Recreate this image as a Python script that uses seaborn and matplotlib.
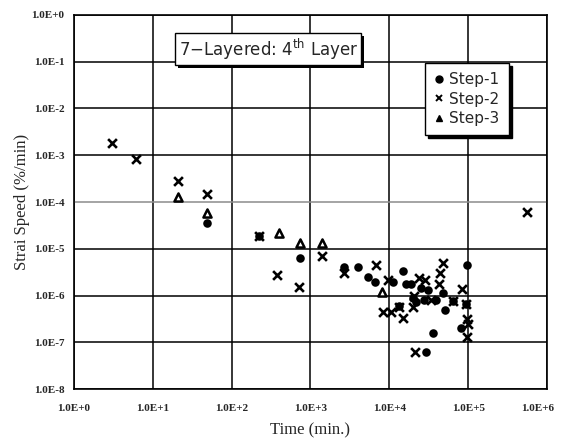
import numpy as np
import pandas as pd
import seaborn as sns
from matplotlib import pyplot as plt
from matplotlib import patheffects
from matplotlib.lines import Line2D
from matplotlib.transforms import ScaledTranslation

# Данные (время, мин; скорость деформации, %/мин)
step1_time = [48.7, 222, 741, 2700, 4050, 5310, 6650, 11000, 15000, 16200,
              18700, 25100, 30600, 19700, 21800, 27700, 38900, 47300, 50700,
              63400, 95100, 96000, 80800, 36000, 29100, 13400]
step1_speed = [3.5e-5, 1.87e-5, 6.4e-6, 4.1e-6, 4.1e-6, 2.45e-6, 1.95e-6,
               1.95e-6, 3.4e-6, 1.74e-6, 1.74e-6, 1.43e-6, 1.3e-6, 8.7e-7,
               7.4e-7, 8.0e-7, 8.0e-7, 1.15e-6, 4.9e-7, 7.7e-7, 6.6e-7,
               4.6e-6, 2.0e-7, 1.55e-7, 6.3e-8, 5.9e-7]

step2_time = [3.0, 6.2, 21, 48.7, 222, 379, 711, 1390, 2700, 6770, 9520,
              24000, 28500, 47300, 44500, 42100, 84700, 20700, 33700, 63400,
              95100, 97000, 100000, 96000, 8230, 10500, 13400, 14700, 20100,
              21300, 560000]
step2_speed = [1.85e-3, 8.2e-4, 2.8e-4, 1.5e-4, 1.87e-5, 2.75e-6, 1.54e-6,
               7.1e-6, 3.1e-6, 4.5e-6, 2.1e-6, 2.33e-6, 2.15e-6, 5.0e-6,
               3.1e-6, 1.8e-6, 1.36e-6, 9.7e-7, 8.0e-7, 7.7e-7, 6.6e-7,
               3.2e-7, 2.5e-7, 1.3e-7, 4.5e-7, 4.5e-7, 5.6e-7, 3.3e-7,
               5.7e-7, 6.3e-8, 6.1e-5]

step3_time = [21, 48.7, 397, 741, 1406, 8100]
step3_speed = [1.3e-4, 5.7e-5, 2.14e-5, 1.35e-5, 1.35e-5, 1.2e-6]

x_ticks = [1e0, 1e1, 1e2, 1e3, 1e4, 1e5, 1e6]
x_labels = ['1.0E+0', '1.0E+1', '1.0E+2', '1.0E+3', '1.0E+4', '1.0E+5', '1.0E+6']
y_ticks = [1e-8, 1e-7, 1e-6, 1e-5, 1e-4, 1e-3, 1e-2, 1e-1, 1e0]
y_labels = ['1.0E-8', '1.0E-7', '1.0E-6', '1.0E-5', '1.0E-4', '1.0E-3',
            '1.0E-2', '1.0E-1', '1.0E+0']

sns.set_style('white')
plt.rcParams['font.family'] = ['DejaVu Sans']

fig = plt.figure(figsize=(5.61, 4.41), dpi=100)
ax = fig.add_axes([0.1319, 0.1179, 0.8431, 0.8481])

# Точки по ступеням
sns.scatterplot(x=step1_time, y=step1_speed, marker='o', s=38, color='black',
                linewidth=0, ax=ax)
sns.scatterplot(x=step2_time, y=step2_speed, marker='x', s=40, color='black',
                linewidth=1.9, ax=ax)
sns.scatterplot(x=step3_time, y=step3_speed, marker='^', s=34, facecolor='white',
                edgecolor='black', linewidth=1.8, ax=ax)

ax.set_xscale('log')
ax.set_yscale('log')
ax.set_xlim(1, 1e6)
ax.set_ylim(1e-8, 1)
ax.minorticks_off()
ax.set_xticks(x_ticks)
ax.set_xticklabels(x_labels, fontfamily='Liberation Serif', fontweight='bold', fontsize=8)
ax.set_yticks(y_ticks)
ax.set_yticklabels(y_labels, fontfamily='Liberation Serif', fontweight='bold', fontsize=8)
ax.tick_params(length=0)
ax.tick_params(axis='x', pad=11)
ax.tick_params(axis='y', pad=7)

# последняя подпись по x у самого края - чуть сдвигаем влево
last = ax.get_xticklabels()[-1]
last.set_transform(last.get_transform() + ScaledTranslation(-7 / 72, 0, fig.dpi_scale_trans))

# Сетка
ax.grid(True, color='black', linewidth=1.1)
ax.yaxis.get_gridlines()[4].set_color('0.55')
ax.set_axisbelow(True)
for sp in ax.spines.values():
    sp.set_color('black')
    sp.set_linewidth(1.2)

ax.set_xlabel('Time (min.)', fontfamily='Liberation Serif', fontsize=12)
ax.set_ylabel('Strai Speed (%/min)', fontfamily='Liberation Serif', fontsize=12)
ax.xaxis.set_label_coords(0.5, -0.088)
ax.yaxis.set_label_coords(-0.093, 0.5)

# Заголовок в рамке
t = ax.text(0.411, 0.908, '7\u2212Layered: 4$^{\\rm th}$ Layer', transform=ax.transAxes,
            ha='center', va='center', fontsize=12,
            bbox=dict(boxstyle='square,pad=0.2', fc='white', ec='black', lw=1))
t.get_bbox_patch().set_path_effects([
    patheffects.SimplePatchShadow(offset=(2, -2), shadow_rgbFace='black', alpha=1),
    patheffects.Normal()])

# Легенда
handles = [
    Line2D([], [], linestyle='', marker='o', color='black', markersize=5),
    Line2D([], [], linestyle='', marker='x', color='black', markersize=5, markeredgewidth=1.4),
    Line2D([], [], linestyle='', marker='^', color='black', markersize=5),
]
leg = ax.legend(handles, ['Step-1', 'Step-2', 'Step-3'], loc='upper left',
                bbox_to_anchor=(0.742, 0.872), fontsize=11, fancybox=False,
                framealpha=1, edgecolor='black', handlelength=0.6,
                handletextpad=0.4, borderpad=0.6, labelspacing=0.3,
                borderaxespad=0, shadow={'color': 'black', 'alpha': 1})
leg.get_frame().set_linewidth(1)

fig.savefig('out.png', dpi=100)
